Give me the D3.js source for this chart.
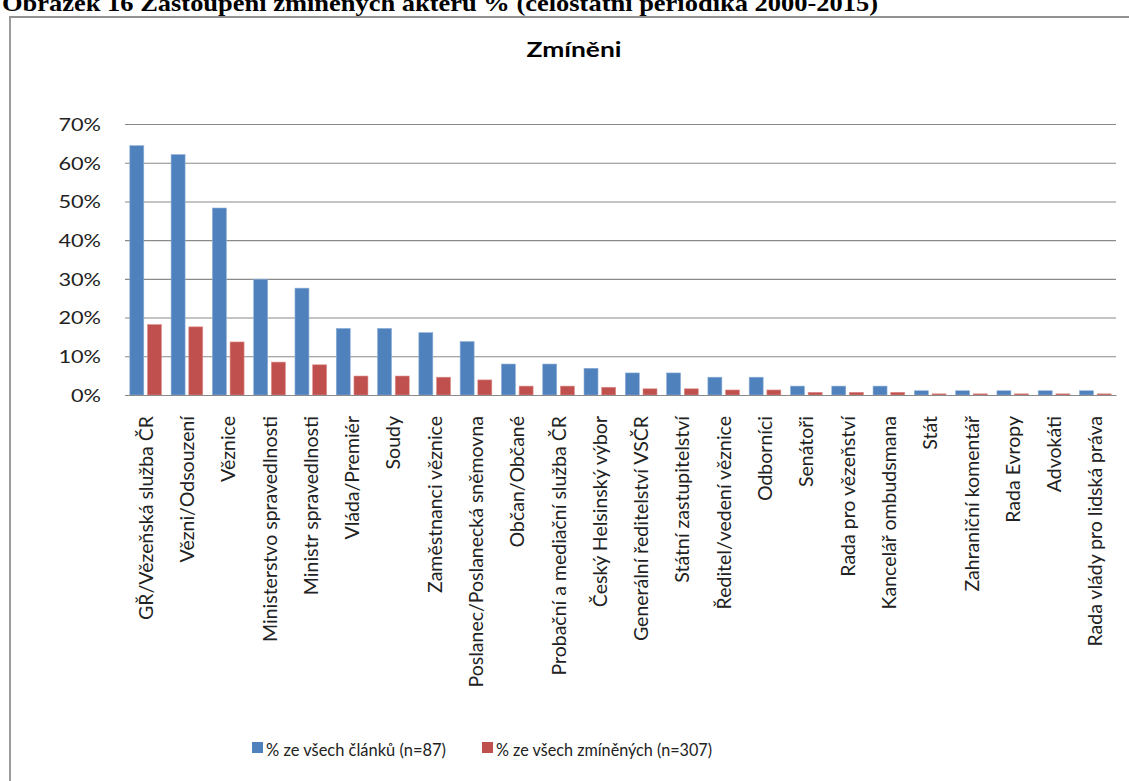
<!DOCTYPE html>
<html><head><meta charset="utf-8">
<script src="https://cdn.jsdelivr.net/npm/d3@7/dist/d3.min.js"></script>
<style>body{margin:0;background:#fff}svg{display:block}</style>
</head><body>
<script>
const figureCaption = "Obrázek 16 Zastoupení zmíněných aktérů % (celostátní periodika 2000-2015)";
const chartTitle = "Zmíněni";
const categories = [
  "GŘ/Vězeňská služba ČR","Vězni/Odsouzení","Věznice","Ministerstvo spravedlnosti",
  "Ministr spravedlnosti","Vláda/Premiér","Soudy","Zaměstnanci věznice",
  "Poslanec/Poslanecká sněmovna","Občan/Občané","Probační a mediační služba ČR",
  "Český Helsinský výbor","Generální ředitelství VSČR","Státní zastupitelství",
  "Ředitel/vedení věznice","Odborníci","Senátoři","Rada pro vězeňství",
  "Kancelář ombudsmana","Stát","Zahraniční komentář","Rada Evropy","Advokáti",
  "Rada vlády pro lidská práva"
];
const seriesNames = ["% ze všech článků (n=87)", "% ze všech zmíněných (n=307)"];
const articlesPct = [64.4,62.1,48.3,29.9,27.6,17.2,17.2,16.1,13.8,8.0,8.0,6.9,5.7,5.7,4.6,4.6,2.3,2.3,2.3,1.1,1.1,1.1,1.1,1.1];
const mentionsPct = [18.2,17.6,13.7,8.5,7.8,4.9,4.9,4.6,3.9,2.3,2.3,2.0,1.6,1.6,1.3,1.3,0.7,0.7,0.7,0.3,0.3,0.3,0.3,0.3];
const yTicks = [0,10,20,30,40,50,60,70];
const colors = ["#4F81BD", "#C0504D"];

const W = 1129, H = 781;
const svg = d3.select("body").append("svg").attr("width", W).attr("height", H);
const font = "Lato, 'Open Sans', sans-serif";

// caption (cut at top, as in the reference)
svg.append("text").attr("x", 2).attr("y", 11)
  .attr("font-family", "'Liberation Serif', 'Times New Roman', serif")
  .attr("font-weight", "bold").attr("font-size", 23).attr("fill", "#000")
  .attr("textLength", 876).attr("lengthAdjust", "spacingAndGlyphs")
  .text(figureCaption);

// frame
svg.append("path").attr("d", `M10,${H} L10,17 L${W},17`)
  .attr("fill", "none").attr("stroke", "#929292").attr("stroke-width", 1.8);

// title
svg.append("text").attr("x", 574).attr("y", 57).attr("text-anchor", "middle")
  .attr("font-family", font).attr("font-weight", "bold").attr("font-size", 21)
  .attr("fill", "#000").attr("textLength", 95).attr("lengthAdjust", "spacingAndGlyphs")
  .text(chartTitle);

const plotL = 125, plotR = 1116, plotT = 124, plotB = 395;
const rows = categories.map((c, i) => ({cat: c, vals: [articlesPct[i], mentionsPct[i]]}));

const x0 = d3.scaleBand().domain(categories).range([plotL, plotR])
  .paddingInner(0.233).paddingOuter(0.1165);
const x1 = d3.scaleBand().domain([0, 1]).range([0, x0.bandwidth()]).paddingInner(0.21);
const y = d3.scaleLinear().domain([0, 70]).range([plotB, plotT]);

// gridlines + y labels
const yAxis = d3.axisLeft(y).tickValues(yTicks).tickSize(-(plotR - plotL)).tickFormat(d => d + "%").tickPadding(24);
const gy = svg.append("g").attr("transform", `translate(${plotL},0)`).call(yAxis);
gy.select(".domain").remove();
gy.selectAll(".tick line").attr("stroke", "#8a8a8a").attr("stroke-width", 1.1);
gy.selectAll(".tick text").attr("font-family", font).attr("font-size", 17.5).attr("fill", "#222")
  .attr("dy", "0.36em")
  .each(function() {
    const w = this.getComputedTextLength();
    d3.select(this).attr("textLength", w * 1.24).attr("lengthAdjust", "spacingAndGlyphs");
  });

// bars
const g = svg.append("g");
const grp = g.selectAll("g.grp").data(rows).join("g").attr("class", "grp")
  .attr("transform", d => `translate(${x0(d.cat)},0)`);
grp.selectAll("rect").data(d => d.vals.map((v, k) => ({k, v}))).join("rect")
  .attr("x", d => x1(d.k)).attr("width", x1.bandwidth())
  .attr("y", d => y(d.v)).attr("height", d => plotB - y(d.v))
  .attr("fill", d => colors[d.k])
  .attr("stroke", d => d.k === 0 ? "#8fb0d8" : "#dc8f8d").attr("stroke-width", 0.6);

// x axis
const xAxis = d3.axisBottom(x0).tickSize(0).tickPadding(0);
const gx = svg.append("g").attr("transform", `translate(0,${plotB})`).call(xAxis);
gx.select(".domain").attr("stroke", "#8a8a8a").attr("stroke-width", 1.2);
gx.selectAll(".tick text").attr("font-family", font).attr("font-size", 19.5).attr("fill", "#222")
  .attr("text-anchor", "end").attr("transform", "rotate(-90)")
  .attr("x", -21).attr("y", 0).attr("dy", "0.36em");

// legend
const legendItems = [{x: 252, tx: 266, w: 180}, {x: 482, tx: 496, w: 216}];
const lg = svg.append("g");
legendItems.forEach((it, i) => {
  lg.append("rect").attr("x", it.x).attr("y", 742).attr("width", 11).attr("height", 11).attr("fill", colors[i]);
  lg.append("text").attr("x", it.tx).attr("y", 755.5).attr("font-family", font).attr("font-size", 18)
    .attr("fill", "#222").attr("textLength", it.w).attr("lengthAdjust", "spacingAndGlyphs")
    .text(seriesNames[i]);
});
</script>
</body></html>
